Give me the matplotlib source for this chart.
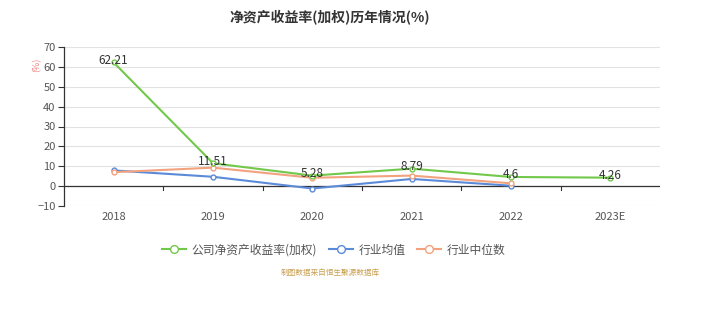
import numpy as np
import matplotlib.pyplot as plt

plt.rcParams['font.family'] = ['Noto Sans CJK SC', 'DejaVu Sans']

years = ['2018', '2019', '2020', '2021', '2022', '2023E']
company_roe = [62.21, 11.51, 5.28, 8.79, 4.6, 4.26]
industry_mean = [7.9, 4.7, -1.2, 3.6, 0.2]
industry_median = [7.0, 9.3, 4.2, 5.3, 1.4]

c_green = '#72c84a'
c_blue = '#5b8ad8'
c_orange = '#f2a27e'

fig = plt.figure(figsize=(7.04, 3.22), dpi=100)
ax = fig.add_axes([64 / 704, 1 - 206 / 322, 596 / 704, 159 / 322])

x = np.arange(len(years))
xm = x[:len(industry_mean)]

marker_kw = dict(marker='o', markersize=3.5, markerfacecolor='white',
                 markeredgewidth=1.0)
ax.plot(x, company_roe, color=c_green, lw=1.5, markeredgecolor=c_green,
        label='公司净资产收益率(加权)', zorder=4, **marker_kw)
ax.plot(xm, industry_mean, color=c_blue, lw=1.5, markeredgecolor=c_blue,
        label='行业均值', zorder=3, **marker_kw)
ax.plot(xm, industry_median, color=c_orange, lw=1.5, markeredgecolor=c_orange,
        label='行业中位数', zorder=3, **marker_kw)

for xi, v in zip(x, company_roe):
    ax.annotate(f'{v:g}', (xi, v), xytext=(0, 1.5), textcoords='offset points',
                ha='center', va='center', fontsize=8.5, color='#333333', zorder=6)

ax.set_xlim(-0.5, len(years) - 0.5)
ax.set_ylim(-10, 70)
ax.set_yticks(range(-10, 71, 10))
ax.set_xticks(x)
ax.set_xticklabels(years)

ax.grid(axis='y', color='#e2e2e2', lw=0.8, zorder=0)
ax.axhline(0, color='#333333', lw=0.9, zorder=2)
for s in ['top', 'right', 'bottom']:
    ax.spines[s].set_visible(False)
ax.spines['left'].set_color('#333333')
ax.spines['left'].set_linewidth(0.9)

ax.tick_params(axis='y', labelsize=8, colors='#333333', labelcolor='#555555',
               length=4, width=0.8, pad=2)
ax.tick_params(axis='x', length=0, labelsize=8, labelcolor='#555555', pad=4)

# tick marks hang off the zero line, between categories
for b in np.arange(0.5, len(years) - 0.5, 1):
    ax.plot([b, b], [0, -2.2], color='#333333', lw=0.8, zorder=2, clip_on=False)

fig.text(37 / 704, 1 - 65 / 322, '(%)', rotation=90, fontsize=6.5,
         color='#f08080', ha='center', va='center')

fig.text(330 / 704, 1 - 18 / 322, '净资产收益率(加权)历年情况(%)', fontsize=10,
         fontweight='bold', color='#333333', ha='center', va='center')

ax.legend(loc='center', bbox_to_anchor=(334 / 704, 1 - 250 / 322),
          bbox_transform=fig.transFigure, ncol=3, frameon=False, fontsize=8.5,
          labelcolor='#555555', handlelength=2.0, columnspacing=1.0,
          handletextpad=0.5, markerscale=1.6)

fig.text(330 / 704, 1 - 273 / 322, '制图数据来自恒生聚源数据库', fontsize=5.5,
         color='#c9a050', ha='center', va='center')

fig.savefig('out.png', dpi=100)
